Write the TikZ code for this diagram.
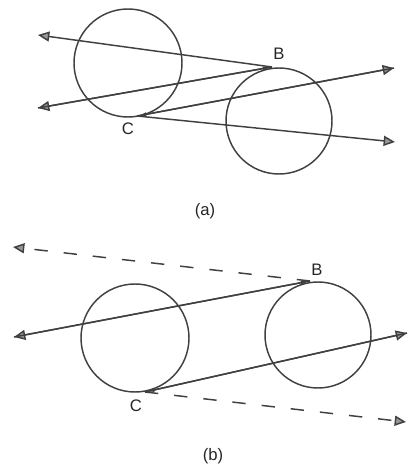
\documentclass[tikz,border=0pt]{standalone}
\usepackage{fontspec}
\setmainfont{Liberation Sans}
\usetikzlibrary{arrows.meta}
\begin{document}
\begin{tikzpicture}[x=0.75pt,y=-0.75pt,
  ln/.style={draw=black!75,line width=1.1pt},
  bigtip/.style={-{Triangle[length=8.5pt,width=7.5pt,fill=black!40]}},
  smalltip/.style={-{Latex[length=7pt,width=3pt,fill=black!50]}},
  dsh/.style={dash pattern=on 10pt off 12pt},
  ring/.style={circle,draw=black!75,line width=1.1pt,inner sep=0pt,minimum size=#1},
  lbl/.style={font=\fontsize{12.5}{15}\selectfont,text=black!85,inner sep=0pt}]
\useasboundingbox (0,0) rectangle (408,466);
% (a)
\node[ring=81pt] (a1) at (128,63) {};
\node[ring=79.5pt] (a2) at (279,121) {};
\coordinate (Ba) at (272,67);
\coordinate (Ca) at (137,116);
\coordinate (La1) at (38,35);
\coordinate (La2) at (38,108);
\coordinate (Ra1) at (394,68);
\coordinate (Ra2) at (395,142);
\draw[ln,bigtip] (Ba) -- (La1);
\draw[ln,bigtip] (Ba) -- (La2);
\draw[ln,smalltip] (La2) -- (Ba);
\draw[ln,bigtip] (Ca) -- (Ra1);
\draw[ln,smalltip] (Ra1) -- (Ca);
\draw[ln,bigtip] (Ca) -- (Ra2);
\node[lbl] (lBa) at (279,54) {B};
\node[lbl] (lCa) at (128,129) {C};
\node[lbl] (capa) at (205,211) {(a)};
% (b)
\node[ring=81pt] (b1) at (135,338) {};
\node[ring=79.5pt] (b2) at (318,335) {};
\coordinate (Bb) at (310,281);
\coordinate (Cb) at (145,392);
\coordinate (Lb1) at (13,247);
\coordinate (Lb2) at (14,337);
\coordinate (Rb1) at (407,333);
\coordinate (Rb2) at (406,422);
\draw[ln,dsh,bigtip] (Bb) -- (Lb1);
\draw[ln,bigtip] (Bb) -- (Lb2);
\draw[ln,smalltip] (Lb2) -- (Bb);
\draw[ln,bigtip] (Cb) -- (Rb1);
\draw[ln,smalltip] (Rb1) -- (Cb);
\draw[ln,dsh,bigtip] (Cb) -- (Rb2);
\node[lbl] (lBb) at (317,270) {B};
\node[lbl] (lCb) at (136,406) {C};
\node[lbl] (capb) at (213,456) {(b)};
\end{tikzpicture}
\end{document}
